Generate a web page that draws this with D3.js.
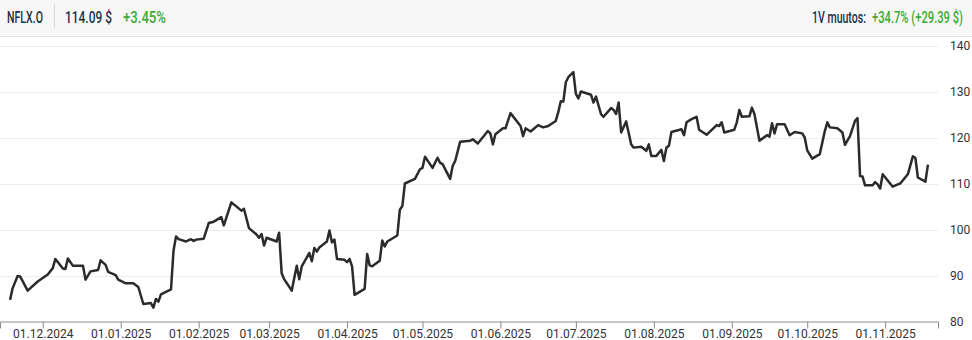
<!DOCTYPE html>
<html>
<head>
<meta charset="utf-8">
<script src="https://cdn.jsdelivr.net/npm/d3@7"></script>
<style>
  body { margin: 0; background: #fff; }
  svg { display: block; }
</style>
</head>
<body>
<script>
// otsikkorivin tekstit
const ticker = "NFLX.O";
const lastPrice = "114.09 $";
const dayChange = "+3.45%";
const yearLabel = "1V muutos:";
const yearChange = "+34.7% (+29.39 $)";

// päivämäärät ja päätöskurssit (luettu kuvasta)
const dates = [
  "2024-11-18","2024-11-19","2024-11-21","2024-11-22","2024-11-25","2024-11-29","2024-12-03","2024-12-05","2024-12-06","2024-12-09",
  "2024-12-10","2024-12-11","2024-12-13","2024-12-17","2024-12-18","2024-12-20","2024-12-23","2024-12-24","2024-12-26","2024-12-27",
  "2024-12-30","2024-12-31","2025-01-03","2025-01-06","2025-01-08","2025-01-10","2025-01-13","2025-01-14","2025-01-15","2025-01-16",
  "2025-01-17","2025-01-21","2025-01-22","2025-01-23","2025-01-24","2025-01-27","2025-01-29","2025-01-30","2025-01-31","2025-02-03",
  "2025-02-05","2025-02-07","2025-02-10","2025-02-11","2025-02-14","2025-02-18","2025-02-19","2025-02-21","2025-02-24","2025-02-25",
  "2025-02-26","2025-02-27","2025-02-28","2025-03-04","2025-03-05","2025-03-06","2025-03-07","2025-03-10","2025-03-12","2025-03-13",
  "2025-03-14","2025-03-17","2025-03-18","2025-03-19","2025-03-20","2025-03-21","2025-03-24","2025-03-25","2025-03-26","2025-03-27",
  "2025-03-28","2025-03-31","2025-04-01","2025-04-02","2025-04-03","2025-04-04","2025-04-08","2025-04-09","2025-04-10","2025-04-11",
  "2025-04-14","2025-04-15","2025-04-16","2025-04-17","2025-04-21","2025-04-22","2025-04-23","2025-04-24","2025-04-28","2025-04-30",
  "2025-05-01","2025-05-02","2025-05-05","2025-05-07","2025-05-08","2025-05-09","2025-05-12","2025-05-13","2025-05-14","2025-05-16",
  "2025-05-20","2025-05-21","2025-05-23","2025-05-27","2025-05-28","2025-05-29","2025-05-30","2025-06-02","2025-06-03","2025-06-05",
  "2025-06-09","2025-06-10","2025-06-11","2025-06-13","2025-06-16","2025-06-18","2025-06-20","2025-06-23","2025-06-24","2025-06-25",
  "2025-06-26","2025-06-27","2025-06-28","2025-06-30","2025-07-01","2025-07-02","2025-07-03","2025-07-07","2025-07-08","2025-07-09",
  "2025-07-11","2025-07-12","2025-07-15","2025-07-16","2025-07-17","2025-07-18","2025-07-19","2025-07-21","2025-07-23","2025-07-24",
  "2025-07-27","2025-07-29","2025-07-30","2025-07-31","2025-08-02","2025-08-04","2025-08-05","2025-08-06","2025-08-07","2025-08-08",
  "2025-08-12","2025-08-13","2025-08-14","2025-08-16","2025-08-18","2025-08-19","2025-08-22","2025-08-23","2025-08-26","2025-08-27",
  "2025-08-28","2025-08-29","2025-09-02","2025-09-03","2025-09-04","2025-09-05","2025-09-08","2025-09-09","2025-09-10","2025-09-12",
  "2025-09-15","2025-09-16","2025-09-17","2025-09-18","2025-09-19","2025-09-22","2025-09-24","2025-09-26","2025-09-29","2025-09-30",
  "2025-10-01","2025-10-03","2025-10-06","2025-10-08","2025-10-09","2025-10-10","2025-10-13","2025-10-15","2025-10-16","2025-10-18",
  "2025-10-20","2025-10-21","2025-10-22","2025-10-23","2025-10-24","2025-10-27","2025-10-28","2025-10-29","2025-10-30","2025-10-31",
  "2025-11-04","2025-11-06","2025-11-07","2025-11-10","2025-11-12","2025-11-13","2025-11-14","2025-11-17","2025-11-18"
];

const closes = [
  84.7, 87.2, 89.9, 89.8, 86.7, 88.7, 90.2, 91.6, 93.6, 91.5,
  91.4, 93.7, 92.1, 92.1, 89.1, 90.9, 91.2, 93.3, 92.3, 90.8,
  90.1, 89.1, 88.3, 88.3, 87.5, 83.8, 84.0, 83.0, 84.9, 84.3,
  85.9, 87.0, 95.4, 98.5, 97.9, 97.4, 97.9, 97.5, 97.8, 98.0,
  101.4, 101.7, 102.7, 100.9, 105.9, 104.1, 104.5, 100.3, 98.9, 98.2,
  99.0, 96.5, 98.2, 97.4, 99.3, 90.5, 89.2, 86.7, 92.1, 89.2,
  92.0, 94.9, 93.1, 96.0, 95.2, 96.1, 97.4, 99.8, 97.2, 97.8,
  93.6, 93.4, 92.9, 93.6, 92.0, 85.8, 87.1, 94.7, 92.2, 92.0,
  93.2, 97.6, 96.3, 97.4, 98.7, 104.3, 105.1, 110.0, 111.0, 113.1,
  113.4, 115.8, 113.4, 115.6, 114.5, 114.2, 111.0, 113.8, 114.9, 119.1,
  119.3, 119.6, 118.7, 121.4, 120.9, 118.5, 120.7, 122.0, 122.0, 125.3,
  122.5, 120.3, 122.0, 121.3, 122.7, 122.2, 122.5, 123.6, 125.5, 127.9,
  127.8, 132.0, 133.1, 134.2, 129.5, 128.5, 130.0, 129.3, 127.6, 128.9,
  125.1, 124.5, 126.4, 126.0, 125.1, 127.6, 121.1, 123.5, 118.5, 117.8,
  118.0, 117.1, 118.5, 116.0, 116.0, 117.3, 114.9, 117.8, 118.2, 121.2,
  121.8, 120.5, 123.3, 124.0, 124.5, 121.7, 120.6, 121.1, 122.7, 122.5,
  123.3, 121.1, 121.7, 123.3, 126.0, 124.5, 124.6, 126.5, 125.1, 119.3,
  120.5, 120.2, 123.1, 120.9, 122.9, 122.9, 120.5, 121.2, 120.9, 120.0,
  117.2, 115.4, 116.4, 121.4, 123.3, 122.2, 122.0, 121.1, 118.4, 120.3,
  123.6, 124.2, 111.6, 111.5, 109.6, 109.6, 110.3, 109.8, 108.9, 112.0,
  109.3, 109.8, 110.0, 112.0, 115.9, 115.6, 111.3, 110.4, 114.09
];

// akselien arvot
const yTicks = [80, 90, 100, 110, 120, 130, 140];
const xTickDates = [
  "2024-12-01","2025-01-01","2025-02-01","2025-03-01","2025-04-01","2025-05-01",
  "2025-06-01","2025-07-01","2025-08-01","2025-09-01","2025-10-01","2025-11-01"
];

const parse = d3.timeParse("%Y-%m-%d");
const data = dates.map((d, i) => ({ date: parse(d), value: closes[i] }));

const width = 972;
const height = 340;
const headerH = 37;
const plotRight = 938;

const svg = d3
  .select("body")
  .append("svg")
  .attr("width", width)
  .attr("height", height);

// otsikkorivi
svg.append("rect")
  .attr("x", 0).attr("y", 0)
  .attr("width", width).attr("height", headerH)
  .attr("fill", "#f7f7f7");
svg.append("line")
  .attr("x1", 0).attr("x2", width)
  .attr("y1", headerH - 0.5).attr("y2", headerH - 0.5)
  .attr("stroke", "#e3e3e3");
svg.append("line")
  .attr("x1", 54.5).attr("x2", 54.5)
  .attr("y1", 4).attr("y2", 28)
  .attr("stroke", "#d9d9d9");

// kapeaa fonttia ei ole, joten teksti puristetaan vaakasuunnassa
const head = svg.append("g")
  .attr("font-family", "Roboto, 'Liberation Sans', sans-serif")
  .attr("font-size", 16)
  .attr("font-weight", 500);

const headTexts = [
  { x: 7, text: ticker, w: 36, fill: "#1b3147" },
  { x: 65, text: lastPrice, w: 47, fill: "#1b3147" },
  { x: 123, text: dayChange, w: 43, fill: "#3aa935" },
  { x: 812, text: yearLabel, w: 54, fill: "#1b3147" },
  { x: 872, text: yearChange, w: 91, fill: "#3aa935" }
];

head.selectAll("text")
  .data(headTexts)
  .join("text")
  .attr("x", 0)
  .attr("y", 0)
  .attr("fill", d => d.fill)
  .text(d => d.text)
  .attr("transform", function (d) {
    const w0 = this.getComputedTextLength();
    return `translate(${d.x},22.5) scale(${d.w / w0},1)`;
  });

// asteikot
const x = d3.scaleTime()
  .domain([parse("2024-11-14"), parse("2025-11-22")])
  .range([0, plotRight]);

const y = d3.scaleLinear()
  .domain([80, 140])
  .range([321.5, 45.5]);

// vaakaviivat
svg.append("g")
  .selectAll("line")
  .data(yTicks.slice(1))
  .join("line")
  .attr("x1", 0)
  .attr("x2", plotRight)
  .attr("y1", d => Math.round(y(d)) + 0.5)
  .attr("y2", d => Math.round(y(d)) + 0.5)
  .attr("stroke", "#ececec")
  .attr("stroke-width", 1);

// y-akselin tekstit oikealla
const yAxis = svg.append("g")
  .attr("transform", `translate(${plotRight},0)`)
  .call(d3.axisRight(y).tickValues(yTicks).tickSize(0).tickPadding(12));
yAxis.select(".domain").remove();
yAxis.selectAll("text")
  .attr("font-family", "Roboto, 'Liberation Sans', Arial, sans-serif")
  .attr("font-size", 12)
  .attr("fill", "#333");

// x-akseli
const fmt = d3.timeFormat("%d.%m.%Y");
const xAxis = svg.append("g")
  .attr("transform", "translate(0,321.5)")
  .call(d3.axisBottom(x)
    .tickValues(xTickDates.map(parse))
    .tickFormat(fmt)
    .tickSizeOuter(0)
    .tickSize(7)
    .tickPadding(1));
xAxis.select(".domain").attr("stroke", "#8c8c8c");
xAxis.selectAll(".tick line").attr("stroke", "#8c8c8c");
xAxis.selectAll("text")
  .attr("y", 0)
  .attr("dy", 0)
  .attr("transform", "translate(0,16.5)")
  .attr("font-family", "Roboto, 'Liberation Sans', Arial, sans-serif")
  .attr("font-size", 12)
  .attr("fill", "#333");

// kurssiviiva
const line = d3.line()
  .x(d => x(d.date))
  .y(d => y(d.value));

svg.append("path")
  .datum(data)
  .attr("d", line)
  .attr("fill", "none")
  .attr("stroke", "#2b2b2b")
  .attr("stroke-width", 2.5)
  .attr("stroke-linejoin", "round");
</script>
</body>
</html>
